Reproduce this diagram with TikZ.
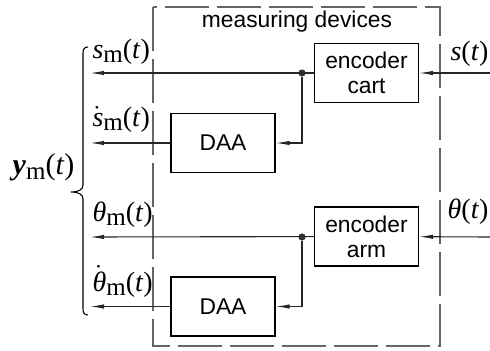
\documentclass[tikz,border=0pt]{standalone}
\usepackage[no-math]{fontspec}
\setmainfont{Liberation Sans}
\newfontfamily\tms{Liberation Serif}
\usepackage{tikz}
\usetikzlibrary{arrows.meta}
\usetikzlibrary{positioning}
\tikzstyle{bloc}=[rectangle,draw,minimum width=52pt,minimum height=29.5pt,
        inner sep=1pt,align=center,font=\fontsize{11.4}{12.5}\selectfont]
\tikzstyle{point}=[circle,fill=black!80,inner sep=0pt,minimum size=3.6pt]
\tikzstyle{fleche}=[-{Latex[length=7pt,width=2.2pt]},black!85]
\tikzstyle{etiq}=[inner sep=0pt,font=\tms\fontsize{14}{16}\selectfont]
\tikzstyle{cadre}=[black!60,dash pattern=on 22pt off 4pt]
\newcommand{\indm}{\raisebox{-0.3ex}{\fontsize{12.5}{14}\selectfont m}}
\newcommand{\pointe}[1]{$\dot{\hbox{#1\kern-1pt}}$\kern1pt}

\begin{document}
\begin{tikzpicture}[x=0.5pt,y=-0.5pt,line width=0.55pt]
\useasboundingbox (0,0) rectangle (490,351);
% measuring devices
\draw[cadre] (153,7) rectangle (440,346);
\node[inner sep=0pt,font=\fontsize{11.4}{13}\selectfont] (titre) at (297,22) {measuring devices};
\node[bloc] (cart) at (366.5,73) {encoder\\cart};
\node[bloc] (arm) at (366.5,236.5) {encoder\\arm};
\node[bloc] (daa1) at (223,143) {DAA};
\node[bloc] (daa2) at (223,306.5) {DAA};
\node[point] (j1) at (302,73) {};
\node[point] (j2) at (302,237) {};
% entrees et sorties
\coordinate (s) at (490,73);
\coordinate (th) at (490,237);
\coordinate (sm) at (90,73);
\coordinate (sdm) at (90,143);
\coordinate (thm) at (90,237);
\coordinate (thdm) at (90,306.5);
\coordinate (pic) at (71,192);
\node[etiq,above left=3pt and 0.5pt of s] (ls) {\textit{s}(\textit{t})};
\node[etiq,above left=6pt and 0.5pt of th] (lth) {\textit{θ}(\textit{t})};
\node[etiq,above right=4pt and 1pt of sm] (lsm) {\textit{s}\indm(\textit{t})};
\node[etiq,above right=5pt and 1pt of sdm] (lsdm) {\pointe{\textit{s}}\indm(\textit{t})};
\node[etiq,above right=4.5pt and 1pt of thm] (lthm) {\textit{θ}\indm(\textit{t})};
\node[etiq,above right=4pt and 1pt of thdm] (lthdm) {\pointe{\textit{θ}}\indm(\textit{t})};
\node[etiq,above left=5pt and -2pt of pic,font=\tms\fontsize{15}{17}\selectfont] (lym) {\textbf{\textit{y}}\indm(\textit{t})};
% fleches
\draw[fleche] (s) -- (cart);
\draw[fleche] (cart) -- (sm);
\draw[fleche] (j1) |- (daa1);
\draw[fleche] (daa1) -- (sdm);
\draw[fleche] (th) -- (arm);
\draw[fleche] (arm) -- (thm);
\draw[fleche] (j2) |- (daa2);
\draw[fleche] (daa2) -- (thdm);
% accolade
\draw (88,47) .. controls (84.5,47) and (83,49) .. (83,53) -- (83,185)
  .. controls (83,189.5) and (79,192) .. (pic)
  .. controls (79,192) and (83,194.5) .. (83,199) -- (83,309)
  .. controls (83,313) and (84.5,315) .. (88,315);
\end{tikzpicture}
\end{document}
